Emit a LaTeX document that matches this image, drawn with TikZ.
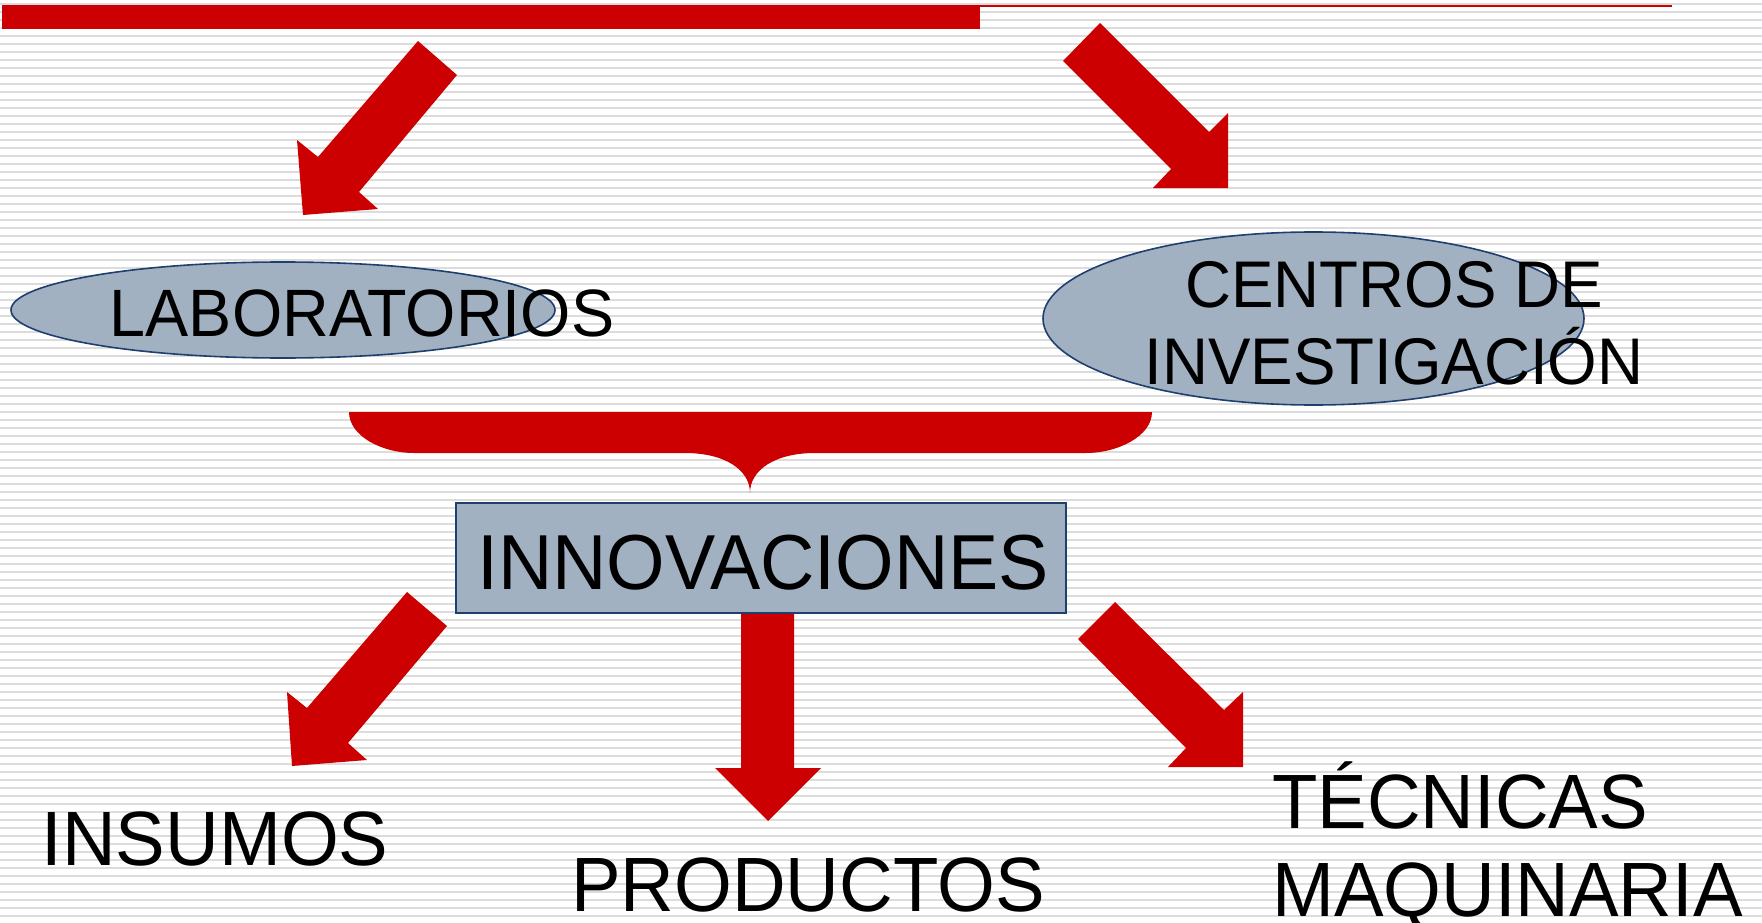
\documentclass[tikz,border=0pt]{standalone}
\usepackage{fontspec}
\setmainfont{Liberation Sans}[FakeStretch=0.965]
\usepackage{tikz}
\usetikzlibrary{shapes.geometric}
\definecolor{myred}{HTML}{CC0000}
\definecolor{myfill}{HTML}{A2B1C1}
\definecolor{myline}{HTML}{1F3F6E}
\definecolor{mystripe}{HTML}{DCDCDC}
\tikzset{
         myarrow/.style={fill=myred, draw=none},
         myoval/.style={ellipse, draw=myline, line width=1.6pt, fill=myfill, inner sep=0pt},
         mybox/.style={draw=myline, line width=2pt, fill=myfill, inner sep=0pt, minimum width=610pt, minimum height=110pt},
         mytext/.style={inner sep=0pt, text=black}
      }

\begin{document}
\begin{tikzpicture}[x=1pt,y=-1pt]
   \useasboundingbox (0,0) rectangle (1762,923);
   % striped background
   \foreach \k in {0,...,115}
      \fill[mystripe] (0,{3+8*\k}) rectangle (1762,{5.2+8*\k});
   % title bar
   \fill[myred] (2,5) rectangle (980,29);
   \fill[myred] (980,5) rectangle (1672,7.5);
   % upper arrows
   \fill[myarrow] (418,41) -- (457,75) -- (359,192) -- (378,209) -- (303,215) -- (297,140) -- (318,157) -- cycle;
   \fill[myarrow] (1063,61) -- (1100,23) -- (1209,132) -- (1228,113) -- (1228,188) -- (1153,188) -- (1171,169) -- cycle;
   % ovals
   \node[myoval, minimum width=544pt, minimum height=96pt] (lab) at (283,310) {};
   \node[myoval, minimum width=541pt, minimum height=173pt] (cen) at (1313.5,318.5) {};
   \node[mytext, anchor=base, font=\fontsize{67}{67}\selectfont] (labtext) at (362,336) {LABORATORIOS};
   \node[mytext, anchor=base, font=\fontsize{66}{66}\selectfont] (centext) at (1394,307) {CENTROS DE};
   \node[mytext, anchor=base, font=\fontsize{66}{66}\selectfont] (invtext) at (1394,384) {INVESTIGACIÓN};
   % brace
   \fill[myarrow] (349,412) -- (1152,412) .. controls (1152,436) and (1118,453) .. (1086,453)
      -- (815,453) .. controls (775,453) and (750,470) .. (750,493)
      .. controls (750,470) and (725,453) .. (685,453)
      -- (414,453) .. controls (382,453) and (349,436) .. (349,412) -- cycle;
   % central box
   \node[mybox] (innov) at (761,558) {};
   \node[mytext, anchor=base, font=\fontsize{78}{78}\selectfont] (innovtext) at (763,589) {INNOVACIONES};
   % lower arrows
   \fill[myarrow] (407,592) -- (447,626) -- (348,743) -- (367,760) -- (292,766) -- (287,692) -- (307,708) -- cycle;
   \fill[myarrow] (741,614) -- (794,614) -- (794,768) -- (821,768) -- (768,821) -- (715,768) -- (741,768) -- cycle;
   \fill[myarrow] (1078,639) -- (1115,602) -- (1224,710) -- (1243,692) -- (1243,767) -- (1168,767) -- (1186,748) -- cycle;
   % results
   \node[mytext, anchor=base, font=\fontsize{77}{77}\selectfont] (ins) at (215,865) {INSUMOS};
   \node[mytext, anchor=base, font=\fontsize{77}{77}\selectfont] (pro) at (808,911) {PRODUCTOS};
   \node[mytext, anchor=base west, font=\fontsize{77}{77}\selectfont] (tec) at (1272,828) {TÉCNICAS};
   \node[mytext, anchor=base west, font=\fontsize{77}{77}\selectfont] (maq) at (1272,916) {MAQUINARIA};
\end{tikzpicture}
\end{document}
